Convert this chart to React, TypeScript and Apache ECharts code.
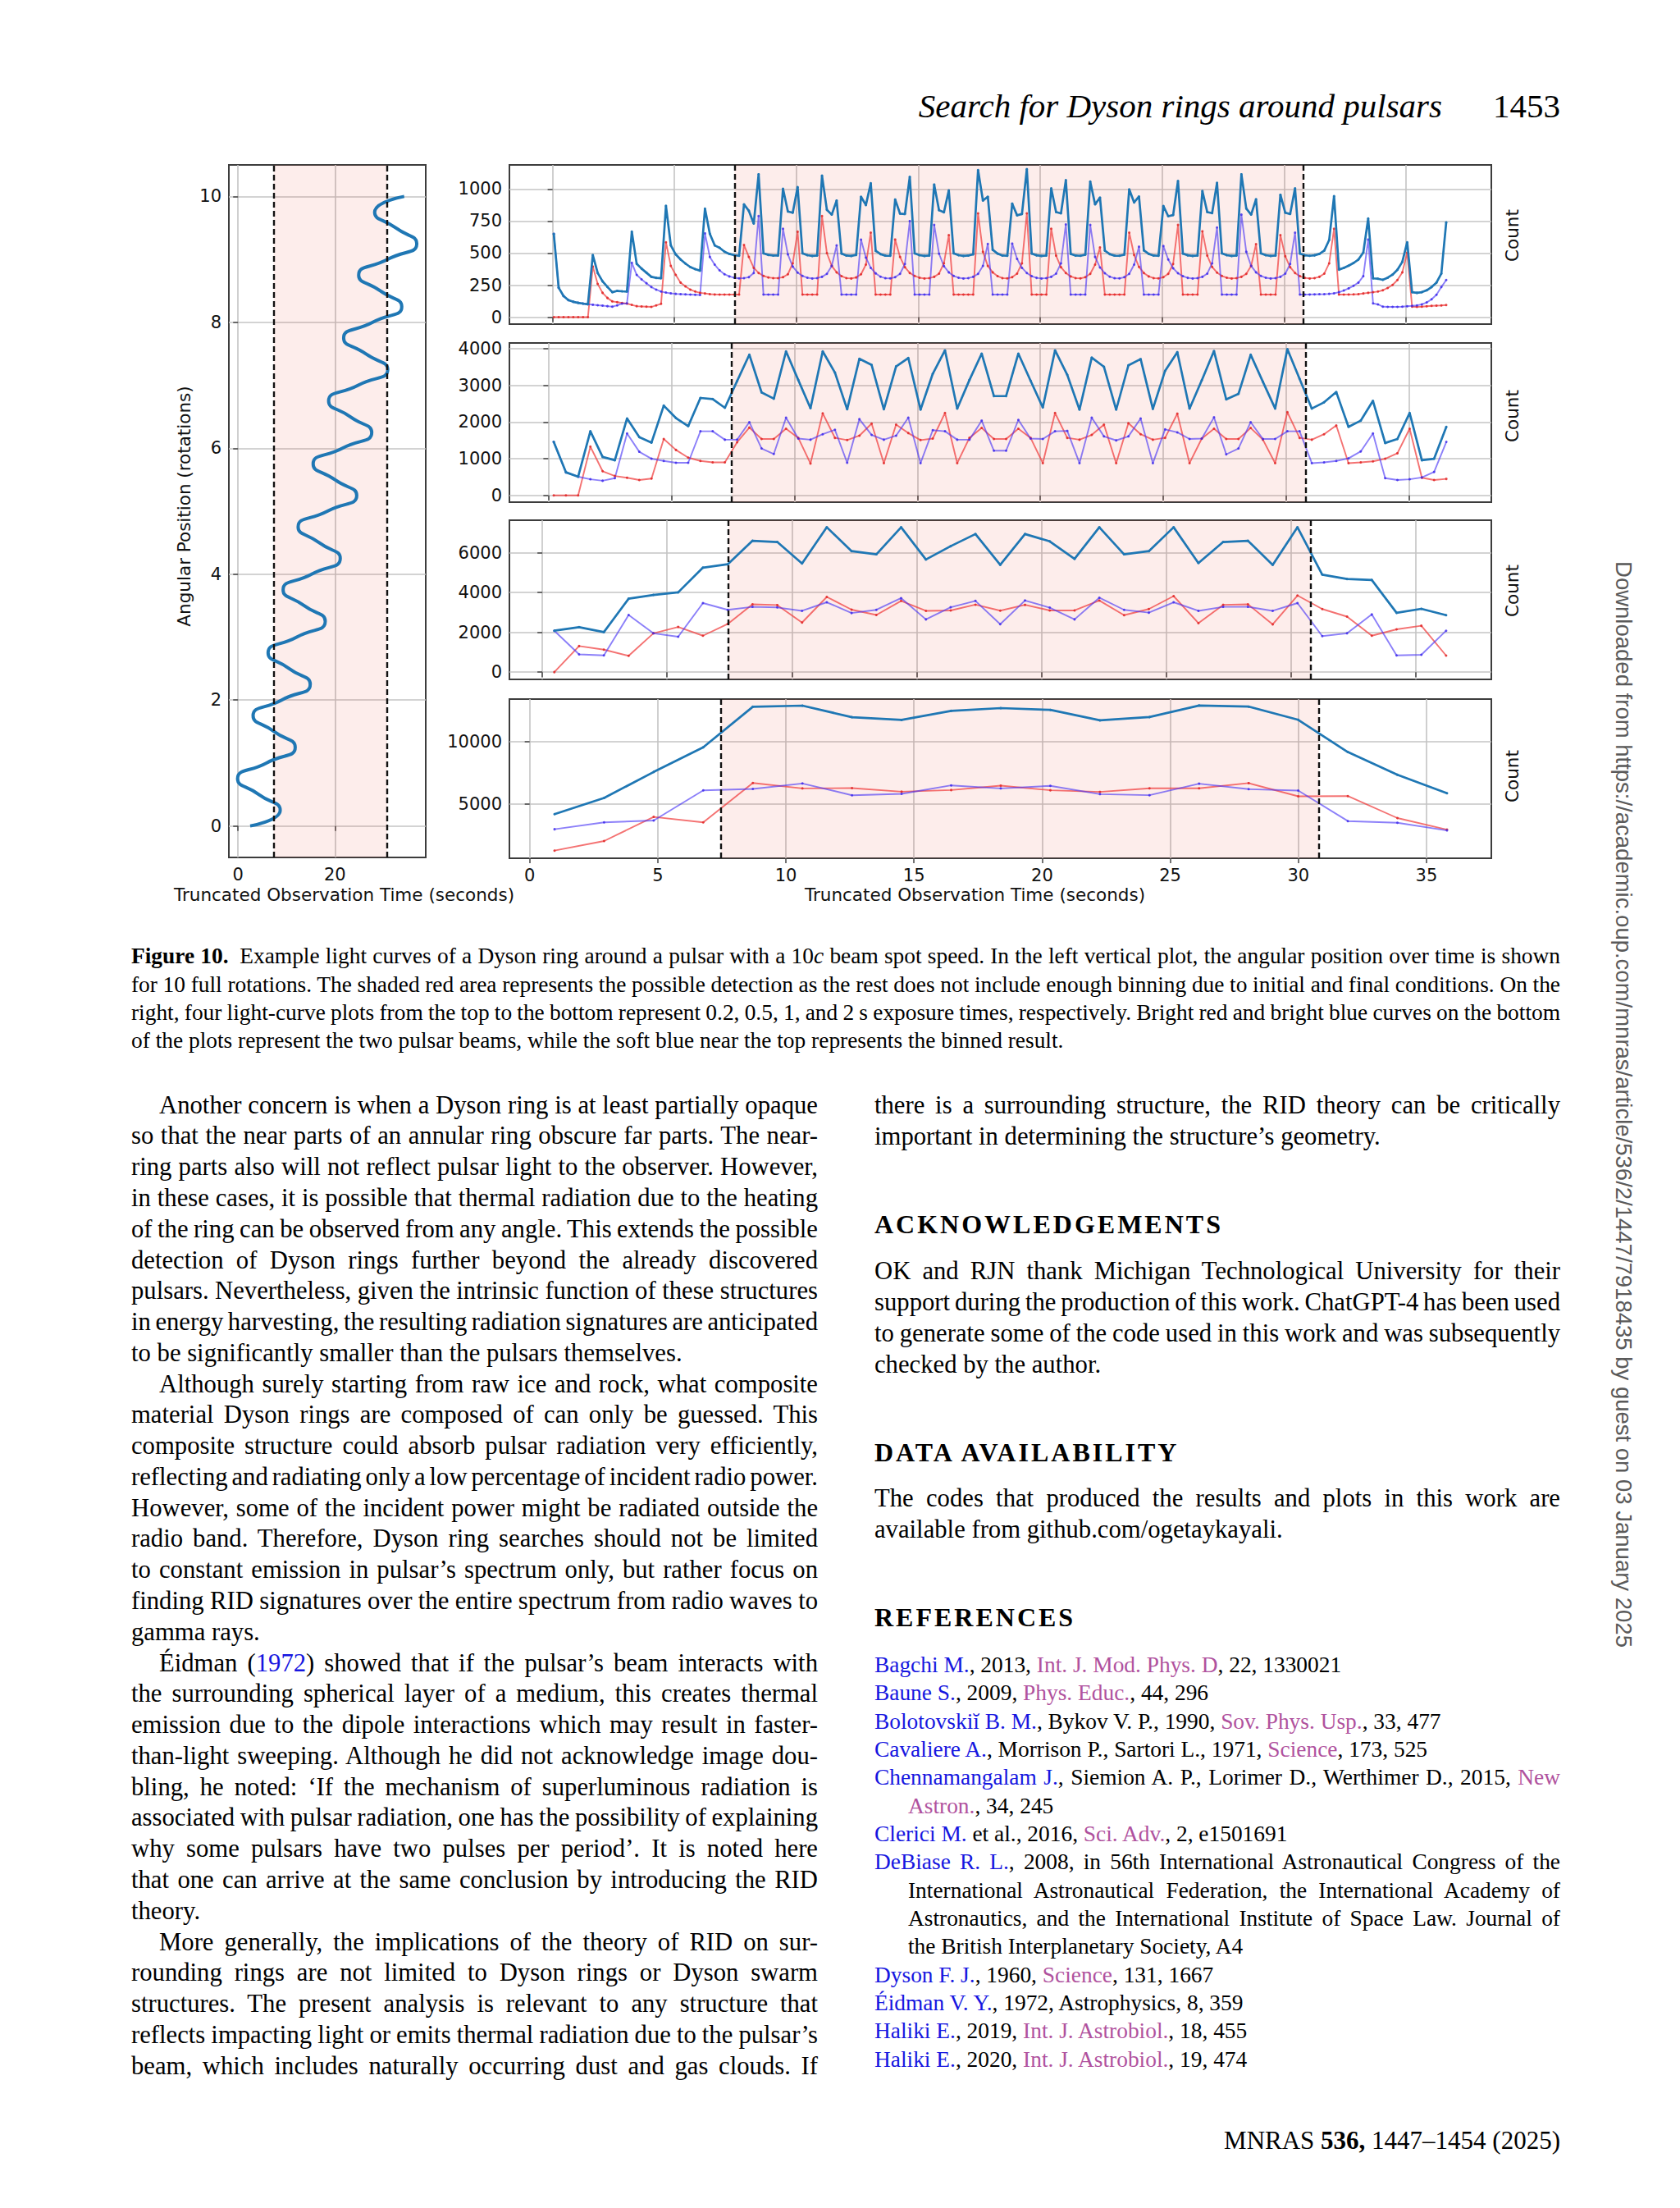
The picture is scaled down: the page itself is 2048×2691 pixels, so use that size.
import React, { useEffect, useRef } from "react";
import * as echarts from "echarts";

// ---------------- DATA ----------------
const SHADE_START = 7.46;
const SHADE_END = 30.8;
const LEFT_SHADE_START = 7.35;
const LEFT_SHADE_END = 30.8;

// Left panel: angular position (rotations) vs truncated observation time (s)
const leftRotations = [0, 0.25, 0.5, 0.75, 1, 1.25, 1.5, 1.75, 2, 2.25, 2.5, 2.75, 3, 3.25, 3.5, 3.75, 4, 4.25, 4.5, 4.75, 5, 5.25, 5.5, 5.75, 6, 6.25, 6.5, 6.75, 7, 7.25, 7.5, 7.75, 8, 8.25, 8.5, 8.75, 9, 9.25, 9.5, 9.75, 10];
const leftTimes = [2.5, 8.7, 4.3, -0.1, 5.85, 11.8, 7.45, 3.1, 9.0, 14.9, 10.55, 6.2, 12.1, 18.0, 13.65, 9.3, 15.2, 21.1, 16.75, 12.4, 18.45, 24.5, 20.0, 15.5, 21.55, 27.6, 23.15, 18.7, 24.8, 30.9, 26.35, 21.8, 27.8, 33.8, 29.35, 24.9, 30.9, 36.9, 32.55, 28.2, 34.3];

// Panel 1: 0.2 s exposure (bin times start + step*i)
const p1Start = 0.05;
const p1Step = 0.2;
const p1Total = [650,230,165,133,120,112,106,101,
485,345,280,236,195,205,202,200,
667,416,379,347,315,307,304,
869,560,490,450,418,391,375,363,847,650,560,541,511,494,484,479,
880,830,730,1115,
498,486,481,481,
1002,825,815,1015,
498,484,478,481,
1104,838,800,910,
496,481,478,486,
940,875,1045,
518,492,480,479,
918,808,805,1095,
498,484,478,481,
1035,835,818,990,
498,484,478,481,491,
1148,910,940,
526,496,481,479,
886,795,805,1155,
496,483,478,481,
1005,820,810,1069,
494,481,479,488,
1058,880,933,
519,492,480,479,488,
998,895,942,
521,494,481,479,
867,788,797,1063,
496,483,478,481,
985,820,812,1048,
498,484,478,481,
1115,848,800,920,
498,484,478,481,
955,815,805,1005,
496,483,479,483,494,520,602,945,
371,384,402,423,450,505,770,
303,300,292,308,332,370,432,585,
195,190,195,210,235,270,340,740];
const p1Red = [0,0,0,0,0,0,0,0,
396,260,190,150,123,117,111,106,96,86,84,82,80,92,104,
585,400,330,270,240,215,200,190,185,180,177,176,176,176,176,176,
563,470,385,345,322,310,305,305,312,335,420,667,
176,176,176,176,
789,500,400,350,320,305,302,310,335,410,660,
176,176,176,176,
606,470,390,345,322,308,302,305,315,340,420,640,
176,176,176,176,176,
810,510,400,350,320,305,303,312,340,420,810,
176,176,176,176,
690,480,390,345,318,305,303,312,338,410,545,
176,176,176,176,176,
660,485,392,345,318,305,303,312,338,415,720,
176,176,176,176,
670,480,392,348,322,308,302,305,315,338,400,570,
176,176,176,176,
640,475,390,345,320,307,302,305,315,340,420,690,
176,176,177,178,180,185,190,195,200,210,228,252,290,350,503,82,80,82,85,88,90,92,95];
const p1Blue = [650,230,165,133,120,112,106,101,97,93,90,86,82,92,106,108,
424,330,295,265,235,215,200,192,186,182,180,178,176,175,173,
654,470,410,365,335,318,308,303,305,312,345,789,
176,176,176,176,
690,490,395,348,322,308,302,305,315,338,400,560,
176,176,176,176,
605,465,385,342,316,304,303,312,338,415,750,
176,176,176,176,
720,495,398,350,322,308,302,305,315,338,400,572,
176,176,176,176,
574,455,385,345,320,307,302,305,315,340,420,724,
176,176,176,176,
720,470,388,343,316,304,303,312,338,410,550,
176,176,176,176,
555,450,382,343,320,307,302,305,315,340,420,700,
176,176,176,176,
800,510,400,350,322,308,302,305,315,340,415,660,
176,176,177,178,179,180,182,186,195,208,225,245,270,320,606,
108,100,82,80,80,80,82,85,88,92,100,115,140,175,235,290];

// Panel 2: 0.5 s exposure
const p2Start = 0.22;
const p2Step = 0.497;
const p2Total = [1460,630,510,1750,1050,960,2100,1590,1440,2450,2110,1890,2660,2630,2390,3120,3840,2810,2640,3930,3150,2380,3930,3350,2350,3730,3560,2350,3520,3750,2340,3320,3960,2370,3150,3870,2710,2710,
3870,3130,2400,3960,3290,2340,3760,3510,2340,3550,3720,2360,3400,3910,2370,3140,3940,2620,2770,3840,3100,2370,3990,3180,2370,2540,2820,1870,2040,2580,1430,1540,2250,960,1000,1870];
const p2Red = [0,0,0,1330,660,530,480,420,460,1540,1240,1030,940,900,900,1450,1850,1540,1540,1820,1570,870,2240,1570,1510,1630,1960,880,1930,1700,1510,1550,2250,880,1570,1840,1540,1540,
1820,1570,880,2250,1570,1520,1650,1930,880,1970,1670,1520,1570,2230,880,1550,1820,1540,1540,1840,1520,880,2270,1570,1520,1670,1910,880,900,930,1000,1150,1820,480,420,450];
const p2Blue = [1460,630,510,440,400,470,1690,1190,1000,940,890,890,1750,1750,1520,1520,2000,1280,1130,2120,1550,1520,1670,1790,890,2080,1650,1520,1630,2120,880,1780,1750,1520,1520,2040,1220,1220,
2060,1550,1540,1750,1760,880,2120,1610,1500,1610,2100,880,1800,1720,1540,1550,2130,1120,1280,2000,1540,1540,1750,1750,880,900,940,1010,1200,1690,470,420,440,490,640,1460];

// Panel 3: 1 s exposure
const p3Start = 0.48;
const p3Step = 0.993;
const p3Total = [2080,2260,2010,3690,3880,4010,5250,5420,6600,6540,5460,7280,6080,5920,7280,5660,6330,6940,5390,6940,6570,5690,7280,5920,6080,7280,5480,6540,6600,5390,7280,4900,4680,4630,2980,3180,2860];
const p3Red = [0,1310,1130,820,1950,2270,1830,2420,3410,3370,2490,3780,3140,2870,3580,3080,3100,3390,3090,3380,3100,3100,3600,2860,3170,3820,2460,3380,3410,2400,3850,3170,2790,1830,2150,2330,830];
const p3Blue = [2080,890,840,2870,1950,1780,3470,3130,3280,3250,3080,3510,2970,3130,3720,2650,3260,3580,2410,3600,3240,2650,3740,3130,2990,3510,3080,3280,3280,3080,3470,1810,1950,2900,840,870,2080];

// Panel 4: 2 s exposure
const p4Start = 0.97;
const p4Step = 1.935;
const p4Total = [4185,5485,7577,9560,12820,12910,11980,11760,12490,12710,12566,11725,11990,12920,12830,11770,9180,7345,5863];
const p4Red = [1255,2026,3965,3524,6696,6256,6278,5991,6123,6476,6106,5973,6261,6261,6681,5619,5641,3872,2943];
const p4Blue = [2973,3524,3678,6101,6212,6652,5705,5815,6498,6256,6460,5796,5708,6637,6195,6084,3629,3496,2876];

// Tick labels
const leftXTicks = [0, 20];
const leftYTicks = [0, 2, 4, 6, 8, 10];
const rightXTicks = [0, 5, 10, 15, 20, 25, 30, 35];
const p1YTicks = [0, 250, 500, 750, 1000];
const p2YTicks = [0, 1000, 2000, 3000, 4000];
const p3YTicks = [0, 2000, 4000, 6000];
const p4YTicks = [5000, 10000];

// ---------------- CHART ----------------
const TICK_FONT = { fontFamily: "DejaVu Sans", fontSize: 21, color: "#111" };
const TITLE_FONT = { fontFamily: "DejaVu Sans", fontSize: 21.5, fill: "#111" };
const plain = (v: number) => String(v);

const binTimes = (start: number, step: number, n: number) =>
  Array.from({ length: n }, (_, i) => +(start + step * i).toFixed(3));

function xAxisCfg(gi: number, min: number, max: number, ticks: number[], showLabels: boolean) {
  return {
    type: "value", gridIndex: gi, min, max,
    axisLine: { show: false },
    axisTick: { show: true, inside: false, length: 6, lineStyle: { color: "#444", width: 1.5 }, customValues: ticks },
    axisLabel: { show: showLabels, customValues: ticks, margin: 10, formatter: plain, ...TICK_FONT },
    splitLine: { show: true, lineStyle: { color: "#c4c4c4", width: 1.6 } },
  };
}
function yAxisCfg(gi: number, min: number, max: number, ticks: number[]) {
  return {
    type: "value", gridIndex: gi, min, max,
    axisLine: { show: false },
    axisTick: { show: true, inside: false, length: 6, lineStyle: { color: "#444", width: 1.5 }, customValues: ticks },
    axisLabel: { show: true, customValues: ticks, margin: 9, formatter: plain, ...TICK_FONT },
    splitLine: { show: true, lineStyle: { color: "#c4c4c4", width: 1.6 } },
  };
}

const shadeMarks = (a: number, b: number) => ({
  markArea: {
    silent: true,
    itemStyle: { color: "rgba(240,80,60,0.1)", borderWidth: 0 },
    data: [[{ xAxis: a }, { xAxis: b }]],
  },
  markLine: {
    silent: true,
    symbol: ["none", "none"],
    label: { show: false },
    lineStyle: { color: "#111", type: [7, 4], width: 2.4 },
    emphasis: { disabled: true },
    data: [{ xAxis: a }, { xAxis: b }],
  },
});

function panelSeries(gi: number, start: number, step: number, total: number[], red: number[], blue: number[]) {
  const xs = binTimes(start, step, total.length);
  const pair = (ys: number[]) => ys.map((y, i) => [xs[i], y]);
  return [
    {
      type: "line", xAxisIndex: gi, yAxisIndex: gi, data: pair(red), silent: true,
      lineStyle: { color: "rgba(240,60,60,0.72)", width: 1.9 },
      itemStyle: { color: "rgba(225,40,40,0.85)" },
      symbol: "circle", symbolSize: 3, showSymbol: true, z: 3,
      ...shadeMarks(SHADE_START, SHADE_END),
    },
    {
      type: "line", xAxisIndex: gi, yAxisIndex: gi, data: pair(blue), silent: true,
      lineStyle: { color: "rgba(70,50,245,0.62)", width: 1.9 },
      itemStyle: { color: "rgba(60,40,235,0.8)" },
      symbol: "circle", symbolSize: 3, showSymbol: true, z: 3,
    },
    {
      type: "line", xAxisIndex: gi, yAxisIndex: gi, data: pair(total), silent: true,
      lineStyle: { color: "#1f77b4", width: 2.7 },
      itemStyle: { color: "#1f77b4" },
      symbol: "circle", symbolSize: 3, showSymbol: true, z: 4,
    },
  ];
}

const gridBase = { show: true, borderColor: "#3c3c3c", borderWidth: 2, backgroundColor: "rgba(0,0,0,0)", containLabel: false, outerBoundsMode: "none" };

const option: any = {
  animation: false,
  grid: [
    { ...gridBase, left: 279, top: 201, width: 240, height: 844 },
    { ...gridBase, left: 621, top: 201, width: 1197, height: 194 },
    { ...gridBase, left: 621, top: 418, width: 1197, height: 194 },
    { ...gridBase, left: 621, top: 634, width: 1197, height: 194 },
    { ...gridBase, left: 621, top: 852, width: 1197, height: 194 },
  ],
  xAxis: [
    xAxisCfg(0, -1.9, 38.75, leftXTicks, true),
    xAxisCfg(1, -1.77, 38.5, rightXTicks, false),
    xAxisCfg(2, -1.58, 38.33, rightXTicks, false),
    xAxisCfg(3, -1.32, 38.04, rightXTicks, false),
    xAxisCfg(4, -0.79, 37.53, rightXTicks, true),
  ],
  yAxis: [
    yAxisCfg(0, -0.5, 10.5, leftYTicks),
    yAxisCfg(1, -54, 1188, p1YTicks),
    yAxisCfg(2, -185, 4160, p2YTicks),
    yAxisCfg(3, -366, 7635, p3YTicks),
    yAxisCfg(4, 640, 13436, p4YTicks),
  ],
  series: [
    {
      type: "line", xAxisIndex: 0, yAxisIndex: 0, silent: true,
      data: leftTimes.map((t, i) => [t, leftRotations[i]]),
      smooth: 0.6, showSymbol: false,
      lineStyle: { color: "#1f77b4", width: 4 },
      z: 3,
      ...shadeMarks(LEFT_SHADE_START, LEFT_SHADE_END),
    },
    ...panelSeries(1, p1Start, p1Step, p1Total, p1Red, p1Blue),
    ...panelSeries(2, p2Start, p2Step, p2Total, p2Red, p2Blue),
    ...panelSeries(3, p3Start, p3Step, p3Total, p3Red, p3Blue),
    ...panelSeries(4, p4Start, p4Step, p4Total, p4Red, p4Blue),
  ],
  graphic: [
    { type: "text", x: 419.5, y: 1090, silent: true, style: { text: "Truncated Observation Time (seconds)", ...TITLE_FONT, align: "center", verticalAlign: "middle" } },
    { type: "text", x: 1188.5, y: 1090, silent: true, style: { text: "Truncated Observation Time (seconds)", ...TITLE_FONT, align: "center", verticalAlign: "middle" } },
    { type: "text", x: 224, y: 617, rotation: Math.PI / 2, silent: true, style: { text: "Angular Position (rotations)", ...TITLE_FONT, align: "center", verticalAlign: "middle" } },
    ...[287, 507, 720, 946].map((cy) => ({
      type: "text", x: 1843, y: cy, rotation: Math.PI / 2, silent: true,
      style: { text: "Count", ...TITLE_FONT, align: "center", verticalAlign: "middle" },
    })),
  ],
};

function Figure() {
  const ref = useRef<HTMLDivElement>(null);
  useEffect(() => {
    const chart = echarts.init(ref.current as HTMLDivElement, undefined, { renderer: "svg" });
    chart.setOption(option);
    return () => chart.dispose();
  }, []);
  return <div ref={ref} style={{ position: "absolute", left: 0, top: 0, width: 2048, height: 1130 }} />;
}

// ---------------- PAGE TEXT ----------------
const SERIF = '"Liberation Serif", "Times New Roman", Times, serif';
const BLUE = "#1616e0";
const PURPLE = "#b0529e";
const BODY = 30.7;
const BODY_LH = 37.77;
const SMALL = 27.4;
const SMALL_LH = 34.33;
const L_X = 160;
const R_X = 1066;
const COL_W = 837;

function T({ x, cy, w, size, lh, just, children, style }: any) {
  return (
    <div
      style={{
        position: "absolute", left: x, top: cy - lh / 2, width: w, height: lh,
        fontSize: size, lineHeight: `${lh}px`, whiteSpace: "nowrap",
        textAlign: just ? "justify" : "left", textAlignLast: just ? "justify" : "left",
        wordSpacing: just ? "-0.13em" : "normal",
        ...style,
      }}
    >
      {children}
    </div>
  );
}

const B = ({ children }: any) => <span style={{ color: BLUE }}>{children}</span>;
const P = ({ children }: any) => <span style={{ color: PURPLE }}>{children}</span>;

const leftCol: Array<[any, boolean, boolean]> = [
  ["Another concern is when a Dyson ring is at least partially opaque", true, true],
  ["so that the near parts of an annular ring obscure far parts. The near-", true, false],
  ["ring parts also will not reflect pulsar light to the observer. However,", true, false],
  ["in these cases, it is possible that thermal radiation due to the heating", true, false],
  ["of the ring can be observed from any angle. This extends the possible", true, false],
  ["detection of Dyson rings further beyond the already discovered", true, false],
  ["pulsars. Nevertheless, given the intrinsic function of these structures", true, false],
  ["in energy harvesting, the resulting radiation signatures are anticipated", true, false],
  ["to be significantly smaller than the pulsars themselves.", false, false],
  ["Although surely starting from raw ice and rock, what composite", true, true],
  ["material Dyson rings are composed of can only be guessed. This", true, false],
  ["composite structure could absorb pulsar radiation very efficiently,", true, false],
  ["reflecting and radiating only a low percentage of incident radio power.", true, false],
  ["However, some of the incident power might be radiated outside the", true, false],
  ["radio band. Therefore, Dyson ring searches should not be limited", true, false],
  ["to constant emission in pulsar\u2019s spectrum only, but rather focus on", true, false],
  ["finding RID signatures over the entire spectrum from radio waves to", true, false],
  ["gamma rays.", false, false],
  [<>{"\u00c9idman ("}<B>1972</B>{") showed that if the pulsar\u2019s beam interacts with"}</>, true, true],
  ["the surrounding spherical layer of a medium, this creates thermal", true, false],
  ["emission due to the dipole interactions which may result in faster-", true, false],
  ["than-light sweeping. Although he did not acknowledge image dou-", true, false],
  ["bling, he noted: \u2018If the mechanism of superluminous radiation is", true, false],
  ["associated with pulsar radiation, one has the possibility of explaining", true, false],
  ["why some pulsars have two pulses per period\u2019. It is noted here", true, false],
  ["that one can arrive at the same conclusion by introducing the RID", true, false],
  ["theory.", false, false],
  ["More generally, the implications of the theory of RID on sur-", true, true],
  ["rounding rings are not limited to Dyson rings or Dyson swarm", true, false],
  ["structures. The present analysis is relevant to any structure that", true, false],
  ["reflects impacting light or emits thermal radiation due to the pulsar\u2019s", true, false],
  ["beam, which includes naturally occurring dust and gas clouds. If", true, false],
];

const rightBody: Array<[any, number, boolean]> = [
  ["there is a surrounding structure, the RID theory can be critically", 1347.6, true],
  ["important in determining the structure\u2019s geometry.", 1385.4, false],
  ["OK and RJN thank Michigan Technological University for their", 1550.2, true],
  ["support during the production of this work. ChatGPT-4 has been used", 1588.0, true],
  ["to generate some of the code used in this work and was subsequently", 1625.7, true],
  ["checked by the author.", 1663.5, false],
  ["The codes that produced the results and plots in this work are", 1826.6, true],
  ["available from github.com/ogetaykayali.", 1864.4, false],
];

const headings: Array<[string, number]> = [
  ["ACKNOWLEDGEMENTS", 1491.8],
  ["DATA AVAILABILITY", 1769.9],
  ["REFERENCES", 1970.8],
];

// [content, indented, justified]
const refLines: Array<[any, boolean, boolean]> = [
  [<><B>Bagchi M.</B>, 2013, <P>Int. J. Mod. Phys. D</P>, 22, 1330021</>, false, false],
  [<><B>Baune S.</B>, 2009, <P>Phys. Educ.</P>, 44, 296</>, false, false],
  [<><B>{"Bolotovski\u012d B. M."}</B>, Bykov V. P., 1990, <P>Sov. Phys. Usp.</P>, 33, 477</>, false, false],
  [<><B>Cavaliere A.</B>, Morrison P., Sartori L., 1971, <P>Science</P>, 173, 525</>, false, false],
  [<><B>Chennamangalam J.</B>, Siemion A. P., Lorimer D., Werthimer D., 2015, <P>New</P></>, false, true],
  [<><P>Astron.</P>, 34, 245</>, true, false],
  [<><B>Clerici M.</B> et al., 2016, <P>Sci. Adv.</P>, 2, e1501691</>, false, false],
  [<><B>DeBiase R. L.</B>, 2008, in 56th International Astronautical Congress of the</>, false, true],
  ["International Astronautical Federation, the International Academy of", true, true],
  ["Astronautics, and the International Institute of Space Law. Journal of", true, true],
  ["the British Interplanetary Society, A4", true, false],
  [<><B>Dyson F. J.</B>, 1960, <P>Science</P>, 131, 1667</>, false, false],
  [<><B>{"\u00c9idman V. Y."}</B>, 1972, Astrophysics, 8, 359</>, false, false],
  [<><B>Haliki E.</B>, 2019, <P>Int. J. Astrobiol.</P>, 18, 455</>, false, false],
  [<><B>Haliki E.</B>, 2020, <P>Int. J. Astrobiol.</P>, 19, 474</>, false, false],
];

const captionLines: Array<[any, boolean]> = [
  [<><b>Figure 10.</b>{"\u2002Example light curves of a Dyson ring around a pulsar with a 10"}<i>c</i>{" beam spot speed. In the left vertical plot, the angular position over time is shown"}</>, true],
  ["for 10 full rotations. The shaded red area represents the possible detection as the rest does not include enough binning due to initial and final conditions. On the", true],
  ["right, four light-curve plots from the top to the bottom represent 0.2, 0.5, 1, and 2 s exposure times, respectively. Bright red and bright blue curves on the bottom", true],
  ["of the plots represent the two pulsar beams, while the soft blue near the top represents the binned result.", false],
];

export default function App() {
  return (
    <div
      style={{
        position: "absolute", left: 0, top: 0, width: 2048, height: 2691, overflow: "hidden",
        background: "#ffffff", fontFamily: SERIF, color: "#000",
      }}
    >
      {/* running head */}
      <div style={{ position: "absolute", left: 0, width: 1758, top: 128.7 - 25, height: 50, lineHeight: "50px", fontSize: 41, fontStyle: "italic", textAlign: "right", whiteSpace: "nowrap" }}>
        Search for Dyson rings around pulsars
      </div>
      <div style={{ position: "absolute", left: 0, width: 1902, top: 128.7 - 25, height: 50, lineHeight: "50px", fontSize: 41, textAlign: "right", whiteSpace: "nowrap" }}>
        1453
      </div>

      <Figure />

      {/* caption */}
      {captionLines.map(([c, j], i) => (
        <T key={"cap" + i} x={L_X} cy={1165.6 + i * SMALL_LH} w={1742} size={SMALL} lh={SMALL_LH} just={j}>{c}</T>
      ))}

      {/* left column */}
      {leftCol.map(([c, j, ind], i) => (
        <T key={"l" + i} x={L_X + (ind ? 34 : 0)} cy={1347.6 + i * BODY_LH} w={COL_W - (ind ? 34 : 0)} size={BODY} lh={BODY_LH} just={j}>{c}</T>
      ))}

      {/* right column */}
      {rightBody.map(([c, cy, j], i) => (
        <T key={"r" + i} x={R_X} cy={cy} w={COL_W - 1} size={BODY} lh={BODY_LH} just={j}>{c}</T>
      ))}
      {headings.map(([h, cy]) => (
        <T key={h} x={R_X} cy={cy} w={800} size={32} lh={40} just={false} style={{ fontWeight: "bold", letterSpacing: "3px" }}>{h}</T>
      ))}
      {refLines.map(([c, ind, j], i) => (
        <T key={"ref" + i} x={R_X + (ind ? 41 : 0)} cy={2029.1 + i * SMALL_LH} w={COL_W - 1 - (ind ? 41 : 0)} size={SMALL} lh={SMALL_LH} just={j}>{c}</T>
      ))}

      {/* footer */}
      <div style={{ position: "absolute", left: 0, width: 1902, top: 2609 - 20, height: 40, lineHeight: "40px", fontSize: 31, textAlign: "right", whiteSpace: "nowrap" }}>
        MNRAS <b>536,</b> 1447–1454 (2025)
      </div>

      {/* download note in right margin */}
      <div
        style={{
          position: "absolute", left: 1979, top: 1345.5, transform: "translate(-50%, -50%) rotate(90deg)",
          fontFamily: '"Liberation Sans", Arial, sans-serif', fontSize: 27.5, color: "#5a5a5a", whiteSpace: "nowrap", lineHeight: "32px",
        }}
      >
        Downloaded from https://academic.oup.com/mnras/article/536/2/1447/7918435 by guest on 03 January 2025
      </div>
    </div>
  );
}
